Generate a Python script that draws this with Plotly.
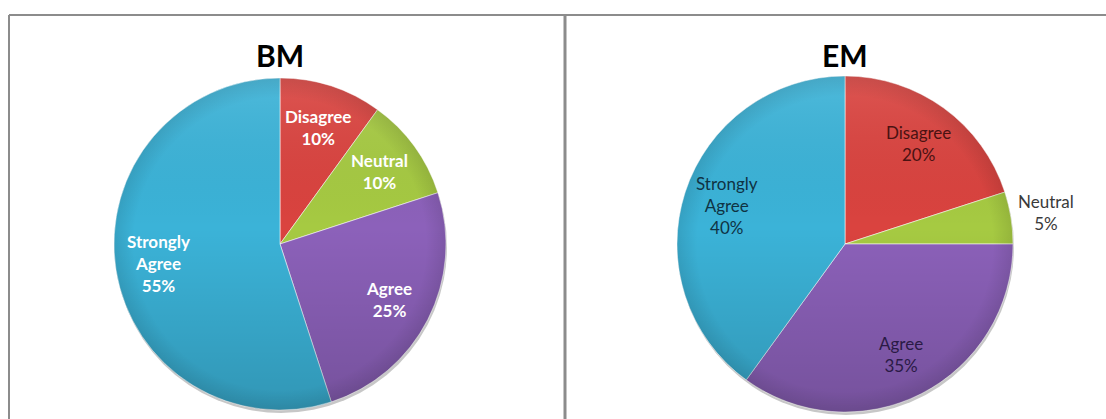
import base64
import math
import plotly.graph_objects as go

# Survey responses, before (BM) and after (EM)
categories = ["Disagree", "Neutral", "Agree", "Strongly Agree"]
bm_values = [10, 10, 25, 55]
em_values = [20, 5, 35, 40]
panel_titles = ["BM", "EM"]

slice_colors = ["#DA433F", "#A6CA42", "#8C61BA", "#3BB3D8"]
em_text_colors = ["#4a1212", "#3a3a3a", "#2a1a45", "#0f3344"]

W, H = 1106, 419
FONT = "Lato, Carlito, 'Open Sans', sans-serif"


def px_domain(cx, cy, r):
    """Pie domain (paper coords) for a pie centred at pixel (cx, cy) with radius r."""
    return dict(x=[(cx - r) / W, (cx + r) / W],
                y=[(H - cy - r) / H, (H - cy + r) / H])


def label_text(cat, val):
    return cat.replace("Strongly ", "Strongly<br>") + "<br>" + f"{val}%"


# soft vertical shading + darkened rim, laid over each pie
shade_svg = (
    '<svg xmlns="http://www.w3.org/2000/svg" width="400" height="400" viewBox="0 0 400 400">'
    '<defs>'
    '<linearGradient id="g" x1="0" y1="0" x2="0" y2="1">'
    '<stop offset="0" stop-color="#ffffff" stop-opacity="0.10"/>'
    '<stop offset="0.45" stop-color="#000000" stop-opacity="0"/>'
    '<stop offset="1" stop-color="#000000" stop-opacity="0.16"/>'
    '</linearGradient>'
    '<radialGradient id="r" cx="0.5" cy="0.5" r="0.5">'
    '<stop offset="0.88" stop-color="#000000" stop-opacity="0"/>'
    '<stop offset="1" stop-color="#000000" stop-opacity="0.10"/>'
    '</radialGradient>'
    '</defs>'
    '<circle cx="200" cy="200" r="200" fill="url(#g)"/>'
    '<circle cx="200" cy="200" r="200" fill="url(#r)"/>'
    '</svg>'
)
shade_src = "data:image/svg+xml;base64," + base64.b64encode(shade_svg.encode()).decode()

fig = go.Figure()

pies = [
    dict(name="BM", values=bm_values, cx=280, cy=244, r=166,
         textcolor=["white"] * 4, weight="bold", outside=[False] * 4),
    dict(name="EM", values=em_values, cx=845, cy=244, r=168,
         textcolor=em_text_colors, weight="normal",
         outside=[False, True, False, False]),
]

for p in pies:
    cx, cy, r = p["cx"], p["cy"], p["r"]
    # soft drop shadow under each pie
    fig.add_trace(go.Pie(
        values=[1], labels=["shadow"], domain=px_domain(cx + 1, cy + 3, r),
        marker=dict(colors=["rgba(0,0,0,0.22)"], line=dict(width=0)),
        textinfo="none", hoverinfo="skip", showlegend=False, sort=False,
    ))
    fig.add_trace(go.Pie(
        name=p["name"],
        labels=categories,
        values=p["values"],
        textinfo="none",
        sort=False,
        direction="clockwise",
        rotation=0,
        marker=dict(colors=slice_colors, line=dict(color="rgba(255,255,255,0.55)", width=1)),
        domain=px_domain(cx, cy, r),
        showlegend=False,
    ))
    fig.add_layout_image(
        source=shade_src, xref="paper", yref="paper",
        x=(cx - r) / W, y=(H - cy + r) / H, sizex=2 * r / W, sizey=2 * r / H,
        xanchor="left", yanchor="top", sizing="stretch", layer="above",
    )

    # slice labels placed at each slice's mid-angle
    total = sum(p["values"])
    cum = 0
    for cat, val, col, out in zip(categories, p["values"], p["textcolor"], p["outside"]):
        mid = (cum + val / 2) / total * 2 * math.pi
        cum += val
        f = 1.21 if out else 0.74
        lx = cx + f * r * math.sin(mid)
        ly = cy - f * r * math.cos(mid)
        fig.add_annotation(
            text=label_text(cat, val), x=lx / W, y=(H - ly) / H,
            xref="paper", yref="paper", showarrow=False,
            xanchor="center", yanchor="middle", align="center",
            font=dict(family=FONT, size=17, color=col, weight=p["weight"] if not out else "normal"),
        )

# Panel titles
for title, cx in zip(panel_titles, [280, 845]):
    fig.add_annotation(text=f"<b>{title}</b>", x=cx / W, y=(H - 55) / H,
                       xref="paper", yref="paper", showarrow=False,
                       font=dict(family=FONT, size=30, color="black"),
                       xanchor="center", yanchor="middle")

# Panel frames
frame = dict(color="#8c8c8c", width=2)
fig.add_shape(type="line", xref="paper", yref="paper",
              x0=9 / W, x1=1.01, y0=(H - 15) / H, y1=(H - 15) / H, line=frame)
fig.add_shape(type="line", xref="paper", yref="paper",
              x0=9 / W, x1=9 / W, y0=-0.01, y1=(H - 15) / H, line=frame)
fig.add_shape(type="line", xref="paper", yref="paper",
              x0=565 / W, x1=565 / W, y0=-0.01, y1=(H - 15) / H,
              line=dict(color="#8c8c8c", width=3))

fig.update_layout(
    width=W, height=H,
    margin=dict(l=0, r=0, t=0, b=0),
    paper_bgcolor="white", plot_bgcolor="white",
    font=dict(family=FONT),
)

fig.write_html("out.html")
